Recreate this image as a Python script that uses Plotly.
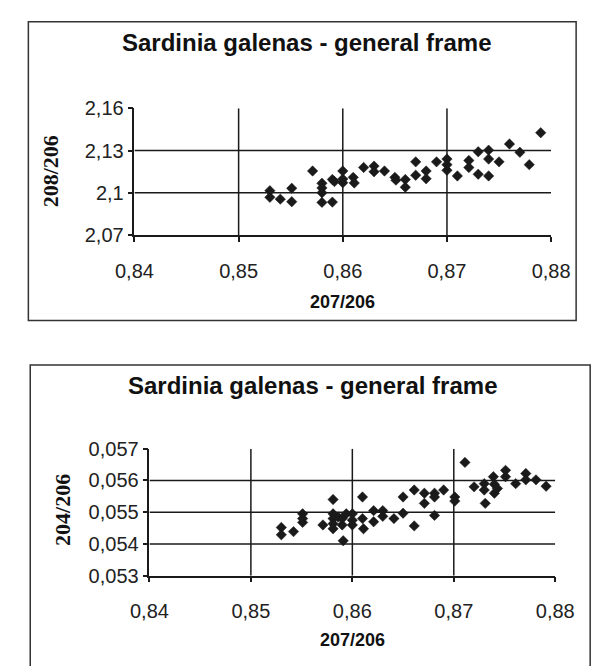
import plotly.graph_objects as go

# ---------------- data ----------------
x_top = [0.8530, 0.8530, 0.8540, 0.8551, 0.8551, 0.8571, 0.8580, 0.8580, 0.8580, 0.8580,
         0.8590, 0.8590, 0.8592, 0.8600, 0.8600, 0.8600, 0.8610, 0.8611, 0.8620, 0.8630,
         0.8630, 0.8640, 0.8650, 0.8651, 0.8660, 0.8660, 0.8670, 0.8670, 0.8680, 0.8680,
         0.8690, 0.8700, 0.8700, 0.8700, 0.8710, 0.8721, 0.8721, 0.8730, 0.8730, 0.8740,
         0.8740, 0.8740, 0.8750, 0.8760, 0.8770, 0.8779, 0.8790]
y_top = [2.1015, 2.0968, 2.0955, 2.1032, 2.0937, 2.1155, 2.1068, 2.1035, 2.1000, 2.0932,
         2.0934, 2.1095, 2.1080, 2.1155, 2.1098, 2.1072, 2.1110, 2.1070, 2.1180, 2.1190,
         2.1150, 2.1155, 2.1110, 2.1090, 2.1095, 2.1040, 2.1220, 2.1125, 2.1155, 2.1100,
         2.1220, 2.1240, 2.1200, 2.1160, 2.1120, 2.1230, 2.1180, 2.1292, 2.1132, 2.1303,
         2.1240, 2.1120, 2.1220, 2.1347, 2.1288, 2.1200, 2.1427]

x_bot = [0.8530, 0.8530, 0.8542, 0.8551, 0.8551, 0.8551, 0.8571, 0.8581, 0.8581, 0.8581,
         0.8581, 0.8581, 0.8586, 0.8590, 0.8590, 0.8591, 0.8594, 0.8600, 0.8600, 0.8600,
         0.8610, 0.8610, 0.8611, 0.8621, 0.8621, 0.8630, 0.8630, 0.8641, 0.8650, 0.8650,
         0.8661, 0.8661, 0.8671, 0.8671, 0.8681, 0.8681, 0.8681, 0.8690, 0.8701, 0.8701,
         0.8711, 0.8720, 0.8730, 0.8730, 0.8731, 0.8739, 0.8740, 0.8740, 0.8743, 0.8751,
         0.8751, 0.8761, 0.8771, 0.8771, 0.8781, 0.8791]
y_bot = [0.05452, 0.05429, 0.05439, 0.05495, 0.05480, 0.05468, 0.05460, 0.05540, 0.05495, 0.05480,
         0.05464, 0.05448, 0.05485, 0.05480, 0.05460, 0.05410, 0.05495, 0.05495, 0.05475, 0.05460,
         0.05548, 0.05480, 0.05448, 0.05505, 0.05470, 0.05505, 0.05487, 0.05480, 0.05548, 0.05497,
         0.05570, 0.05457, 0.05560, 0.05528, 0.05560, 0.05548, 0.05490, 0.05570, 0.05548, 0.05535,
         0.05657, 0.05580, 0.05590, 0.05570, 0.05528, 0.05612, 0.05588, 0.05560, 0.05575, 0.05632,
         0.05612, 0.05590, 0.05622, 0.05602, 0.05602, 0.05582]

x_ticks = [0.84, 0.85, 0.86, 0.87, 0.88]
x_ticklabels = ["0,84", "0,85", "0,86", "0,87", "0,88"]
x_grid = [0.85, 0.86, 0.87]

y_top_ticks = [2.07, 2.10, 2.13, 2.16]
y_top_ticklabels = ["2,07", "2,1", "2,13", "2,16"]
y_top_grid = [2.10, 2.13]

y_bot_ticks = [0.053, 0.054, 0.055, 0.056, 0.057]
y_bot_ticklabels = ["0,053", "0,054", "0,055", "0,056", "0,057"]
y_bot_grid = [0.054, 0.055, 0.056]

chart_title = "Sardinia galenas - general frame"
x_title = "207/206"
y_top_title = "208/206"
y_bot_title = "204/206"

# ---------------- figure ----------------
W, H = 597, 666
def px(x):
    return x / W
def py(y):
    return 1 - y / H

INK = "#1a1a1a"
SANS = "Liberation Sans, Arial, sans-serif"
SERIF = "Liberation Serif, Times New Roman, serif"

marker = dict(symbol="diamond", size=8, color=INK, line=dict(width=0.5, color=INK))

fig = go.Figure()
fig.add_trace(go.Scatter(x=x_top, y=y_top, mode="markers", marker=marker,
                         xaxis="x", yaxis="y", showlegend=False, hoverinfo="x+y"))
fig.add_trace(go.Scatter(x=x_bot, y=y_bot, mode="markers", marker=marker,
                         xaxis="x2", yaxis="y2", showlegend=False, hoverinfo="x+y"))

axis_common = dict(showgrid=False, zeroline=False, showline=True, linecolor=INK, linewidth=1.5,
                   ticks="outside", ticklen=5, tickwidth=1.5, tickcolor=INK,
                   tickfont=dict(family=SANS, size=20, color="#222"))

fig.update_layout(
    width=W, height=H,
    margin=dict(l=0, r=0, t=0, b=0),
    paper_bgcolor="white", plot_bgcolor="white",
    showlegend=False,
    xaxis=dict(domain=[px(123.3), px(568.3)], range=[x_ticks[0], x_ticks[-1]],
               tickvals=x_ticks, ticktext=x_ticklabels, anchor="y",
               ticklabelstandoff=12, **axis_common),
    yaxis=dict(domain=[py(231.7), py(100.7)], range=[y_top_ticks[0], y_top_ticks[-1]],
               tickvals=y_top_ticks, ticktext=y_top_ticklabels, anchor="x", **axis_common),
    xaxis2=dict(domain=[px(139.3), px(572.7)], range=[x_ticks[0], x_ticks[-1]],
                tickvals=x_ticks, ticktext=x_ticklabels, anchor="y2",
                ticklabelstandoff=12, **axis_common),
    yaxis2=dict(domain=[py(584), py(452.7)], range=[y_bot_ticks[0], y_bot_ticks[-1]],
                tickvals=y_bot_ticks, ticktext=y_bot_ticklabels, anchor="x2", **axis_common),
)

shapes = []
# panel frames
shapes.append(dict(type="rect", xref="paper", yref="paper",
                   x0=px(10), x1=px(595), y0=py(320), y1=py(11),
                   line=dict(color="#333", width=1.5), fillcolor="rgba(0,0,0,0)", layer="below"))
shapes.append(dict(type="rect", xref="paper", yref="paper",
                   x0=px(12), x1=px(610), y0=py(680), y1=py(366),
                   line=dict(color="#333", width=1.5), fillcolor="rgba(0,0,0,0)", layer="below"))

grid_line = dict(color=INK, width=1.5)
for g in x_grid:
    shapes.append(dict(type="line", xref="x", yref="y", x0=g, x1=g,
                       y0=y_top_ticks[0], y1=y_top_ticks[-1], line=grid_line, layer="below"))
    shapes.append(dict(type="line", xref="x2", yref="y2", x0=g, x1=g,
                       y0=y_bot_ticks[0], y1=y_bot_ticks[-1], line=grid_line, layer="below"))
for g in y_top_grid:
    shapes.append(dict(type="line", xref="x", yref="y", x0=x_ticks[0], x1=x_ticks[-1],
                       y0=g, y1=g, line=grid_line, layer="below"))
for g in y_bot_grid:
    shapes.append(dict(type="line", xref="x2", yref="y2", x0=x_ticks[0], x1=x_ticks[-1],
                       y0=g, y1=g, line=grid_line, layer="below"))
fig.update_layout(shapes=shapes)

ann = []
ann.append(dict(text=f"<b>{chart_title}</b>", xref="paper", yref="paper", x=px(307), y=py(33),
                showarrow=False, xanchor="center", yanchor="middle",
                font=dict(family=SANS, size=24, color="#111")))
ann.append(dict(text=f"<b>{chart_title}</b>", xref="paper", yref="paper", x=px(313), y=py(387),
                showarrow=False, xanchor="center", yanchor="middle",
                font=dict(family=SANS, size=24, color="#111")))
ann.append(dict(text=f"<b>{x_title}</b>", xref="paper", yref="paper", x=px(346), y=py(301),
                showarrow=False, xanchor="center", yanchor="middle",
                font=dict(family=SANS, size=18, color="#111")))
ann.append(dict(text=f"<b>{x_title}</b>", xref="paper", yref="paper", x=px(356), y=py(650),
                showarrow=False, xanchor="center", yanchor="middle",
                font=dict(family=SANS, size=18, color="#111")))
ann.append(dict(text=f"<b>{y_top_title}</b>", xref="paper", yref="paper", x=px(34), y=py(166),
                showarrow=False, xanchor="center", yanchor="middle", textangle=-90,
                font=dict(family=SERIF, size=22, color="#111")))
ann.append(dict(text=f"<b>{y_bot_title}</b>", xref="paper", yref="paper", x=px(47), y=py(516),
                showarrow=False, xanchor="center", yanchor="middle", textangle=-90,
                font=dict(family=SERIF, size=22, color="#111")))
fig.update_layout(annotations=ann)

fig.write_html("out.html")
